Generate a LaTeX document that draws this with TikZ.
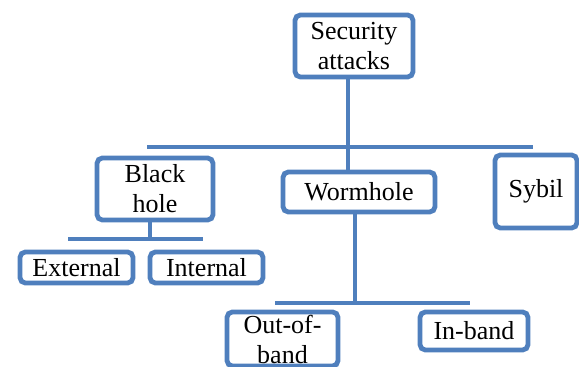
\documentclass[tikz,border=0pt]{standalone}
\usepackage{fontspec}
\setmainfont{Liberation Serif}
\definecolor{ATBlue}{HTML}{4F7FBD}
\tikzset{
  atbox/.style={draw=ATBlue,line width=3.6pt,rounded corners=4pt,fill=white,inner sep=0pt,align=center,
    font=\fontsize{19.5}{22.5}\selectfont},
  atlink/.style={draw=ATBlue,line width=3.2pt}
}
\begin{document}
\begin{tikzpicture}[x=0.75pt,y=-0.75pt]
\path[use as bounding box] (0,0) rectangle (579,367);
\node[atbox,minimum width=88.5pt,minimum height=46.5pt] (sec) at (354,46) {Security\\attacks};
\node[atbox,minimum width=87pt,minimum height=46.5pt] (black) at (155,189) {Black\\hole};
\node[atbox,minimum width=114pt,minimum height=30pt] (worm) at (359,192) {Wormhole};
\node[atbox,minimum width=61.5pt,minimum height=54.75pt] (sybil) at (536,191.5) {Sybil};
\node[atbox,minimum width=84.75pt,minimum height=23.25pt] (ext) at (76.5,267.5) {External};
\node[atbox,minimum width=84.75pt,minimum height=23.25pt] (int) at (206.5,267.5) {Internal};
\node[atbox,minimum width=83.25pt,minimum height=40.5pt] (oob) at (282.5,339) {Out-of-\\band};
\node[atbox,minimum width=81pt,minimum height=28.5pt] (inb) at (474,331) {In-band};
\coordinate (bus1w) at (147,147);
\coordinate (bus1e) at (533,147);
\coordinate (drop1) at (348,147);
\coordinate (bus2w) at (275,303);
\coordinate (bus2e) at (470,303);
\coordinate (drop2) at (355,303);
\coordinate (bus3w) at (68,239);
\coordinate (bus3e) at (203,239);
\coordinate (drop3) at (150,239);
\draw[atlink] (bus1w) -- (bus1e);
\draw[atlink] (sec.south -| drop1) -- (worm.north -| drop1);
\draw[atlink] (bus2w) -- (bus2e);
\draw[atlink] (worm.south -| drop2) -- (drop2);
\draw[atlink] (bus3w) -- (bus3e);
\draw[atlink] (black.south -| drop3) -- (drop3);
\end{tikzpicture}
\end{document}
